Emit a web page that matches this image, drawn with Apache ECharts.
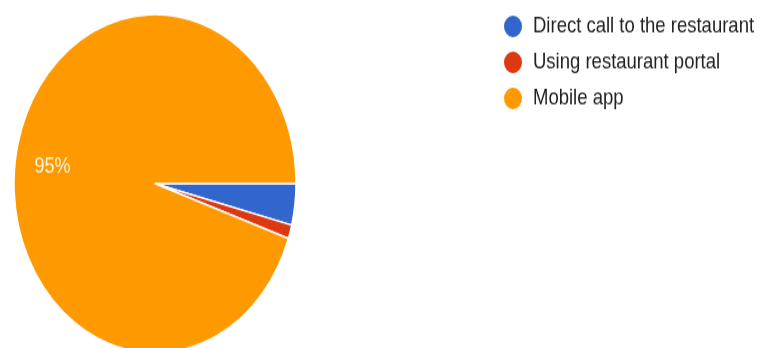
<!DOCTYPE html>
<html><head><meta charset="utf-8">
<script src="https://cdn.jsdelivr.net/npm/echarts@6/dist/echarts.min.js"></script>
<style>
html,body{margin:0;padding:0;background:#fff;overflow:hidden;}
#wrap{width:760px;height:348px;overflow:hidden;}
#c{width:760px;height:290px;transform:scaleY(1.2);transform-origin:0 0;}
</style></head>
<body><div id="wrap"><div id="c"></div></div>
<script>
const categories = ['Direct call to the restaurant', 'Using restaurant portal', 'Mobile app'];
const values = [3, 1, 72];
const colors = ['#3366cc', '#dc3912', '#ff9900'];
const shownLabels = ['Mobile app'];

const total = values.reduce((a, b) => a + b, 0);
const data = categories.map((n, i) => ({ name: n, value: values[i], itemStyle: { color: colors[i] } }));
const chart = echarts.init(document.getElementById('c'));
chart.setOption({
  animation: false,
  legend: {
    orient: 'vertical', left: 497, top: 6, icon: 'circle',
    itemWidth: 20, itemHeight: 20, itemGap: 8,
    data: categories,
    textStyle: { fontFamily: 'Liberation Sans, Arial', fontSize: 18.5, color: '#222', lineHeight: 16, padding: [0, 0, 0, 5] }
  },
  series: [
    {
      type: 'pie', center: [155, 153], radius: [0, 141], startAngle: 0, clockwise: true,
      data: data, label: { show: false }, labelLine: { show: false },
      itemStyle: { borderColor: '#fff', borderWidth: 1.5 }, silent: true
    },
    {
      type: 'pie', center: [155, 153], radius: [0, 208], startAngle: 0, clockwise: true,
      data: data.map(d => ({ name: d.name, value: d.value, itemStyle: { color: 'rgba(0,0,0,0)' } })),
      itemStyle: { borderWidth: 0 }, silent: true, legendHoverLink: false,
      label: {
        show: true, position: 'inside', color: '#fff6e0', offset: [3, 4],
        fontFamily: 'Liberation Sans, Arial', fontSize: 18,
        formatter: p => shownLabels.includes(p.name) ? Math.round(p.value / total * 100) + '%' : ''
      },
      labelLine: { show: false }
    }
  ]
});
</script></body></html>
